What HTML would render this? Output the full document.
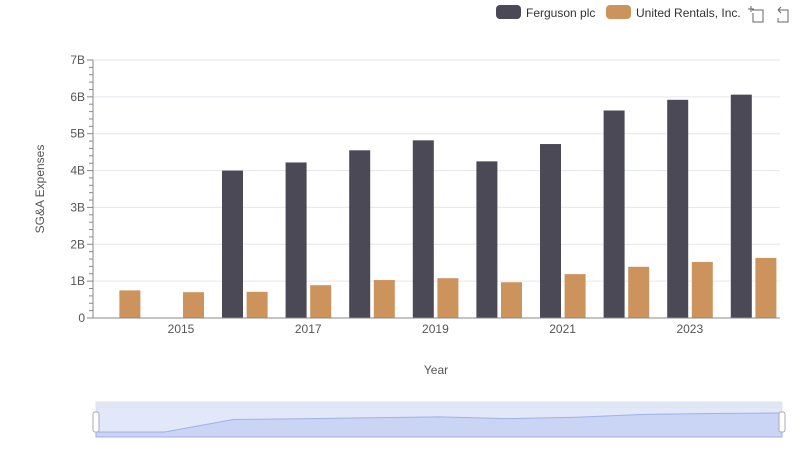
<!DOCTYPE html>
<html><head><meta charset="utf-8"><style>
body{margin:0;background:#fff;font-family:"Liberation Sans",sans-serif;}
svg text{font-family:"Liberation Sans",sans-serif;}
</style></head><body>
<svg id="c" width="800" height="461" xmlns="http://www.w3.org/2000/svg">
<g>
<rect x="496" y="5" width="25" height="14" rx="4" fill="#4a4955"/>
<text x="526" y="17" font-size="12" fill="#333">Ferguson plc</text>
<rect x="606" y="5" width="25" height="14" rx="4" fill="#cc935c"/>
<text x="636" y="17" font-size="12" fill="#333">United Rentals, Inc.</text>
<g stroke="#666" fill="none"><path d="M752 10h11v12h-10v-9M751 6v6M748 9h6"/></g>
<g stroke="#666" fill="none"><path d="M778 10l3-3M778 10l3 3M778 10h10v12h-10v-4"/></g>
</g>
<text transform="translate(44,189) rotate(-90)" font-size="12" fill="#555" text-anchor="middle">SG&amp;A Expenses</text>
<text x="436" y="374" font-size="12" fill="#555" text-anchor="middle">Year</text>
<g id="grid"></g><g id="bars"></g><g id="axes"></g>
<g>
<rect x="96" y="402" width="686" height="35" fill="#f3f5fb" stroke="#dde3ef"/>
<rect x="96" y="402" width="686" height="6" fill="#dfe5f3"/>
<path id="mini" fill="#d5ddf5" stroke="#9fb1e6" stroke-width="1"/>
<rect x="96" y="408" width="686" height="29" fill="rgba(160,180,240,0.2)"/>
<rect x="93" y="412" width="6" height="20" rx="2" fill="#fff" stroke="#aab"/>
<rect x="779" y="412" width="6" height="20" rx="2" fill="#fff" stroke="#aab"/>
</g>
</svg>
<script>
const years=[2014,2015,2016,2017,2018,2019,2020,2021,2022,2023,2024];
const ferguson=[null,null,4.0,4.22,4.55,4.82,4.25,4.72,5.63,5.92,6.06];
const united=[0.75,0.70,0.71,0.89,1.03,1.08,0.97,1.19,1.39,1.52,1.63];
const yTicks=[0,1,2,3,4,5,6,7];
const yLabels=["0","1B","2B","3B","4B","5B","6B","7B"];
const NS="http://www.w3.org/2000/svg";
const xa0=93,xa1=780,x0=85.6,bw=63.6,y0=318,ppu=258/7;
const xc=i=>x0+bw*(i+0.5), y=v=>y0-v*ppu;
function mk(t,a,p){const e=document.createElementNS(NS,t);for(const k in a)e.setAttribute(k,a[k]);document.getElementById(p).appendChild(e);return e;}
yTicks.forEach((t,i)=>{
 if(t>0){const l=mk('line',{x1:xa0,x2:xa1,y1:y(t),y2:y(t),stroke:'#e3e6ee'},'grid');
 
 }
 const tx=mk('text',{x:85,y:y(t)+4,'font-size':12,fill:'#555','text-anchor':'end'},'axes');tx.textContent=yLabels[i];
 
 
 for(let m=1;m<5&&t<7;m++){const ml=mk('line',{x1:89,x2:93,y1:y(t+m*0.2),y2:y(t+m*0.2),stroke:'#888'},'axes');
 
 }
 const tk=mk('line',{x1:87,x2:93,y1:y(t),y2:y(t),stroke:'#888'},'axes');
 
 
});
const ax=mk('line',{x1:xa0,x2:xa0,y1:60,y2:y0,stroke:'#888'},'axes');


const xa=mk('line',{x1:xa0,x2:xa1,y1:y0,y2:y0,stroke:'#888'},'axes');


years.forEach((yr,i)=>{
 if(yr%2==1){const t=mk('text',{x:xc(i),y:y0+15,'font-size':12,fill:'#555','text-anchor':'middle'},'axes');t.textContent=yr;
 
 }
 if(ferguson[i]!=null){const r=mk('rect',{x:xc(i)-22.6,y:y(ferguson[i]),width:21,height:ferguson[i]*ppu,fill:'#4a4955'},'bars');
 
 }
 const r2=mk('rect',{x:xc(i)+2,y:y(united[i]),width:21,height:united[i]*ppu,fill:'#cc935c'},'bars');
 
 
});
let d='M96 437';const mx=i=>96+686*i/(years.length-1),my=v=>432-v/6.06*19;
years.forEach((yr,i)=>{d+=' L'+mx(i)+' '+my(ferguson[i]||0);});
d+=' L782 437Z';document.getElementById('mini').setAttribute('d',d);
</script>
</body></html>
